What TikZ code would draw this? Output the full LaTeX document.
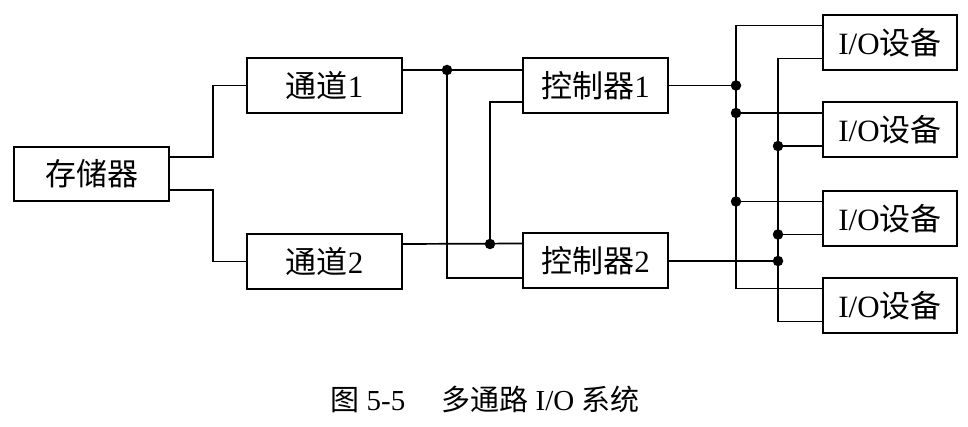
\documentclass[tikz,border=0pt]{standalone}
\usepackage{fontspec}
\setmainfont{Liberation Serif}
\newfontfamily\cjk{Noto Sans CJK SC}
\begin{document}
\begin{tikzpicture}[x=1pt,y=-1pt,
  box/.style={draw,line width=2pt,minimum height=55pt,inner sep=0pt,font=\fontsize{31}{34}\selectfont},
  wire/.style={line width=1.7pt},
  dotj/.style={circle,fill,inner sep=0pt,minimum size=10.5pt}]
\useasboundingbox (0,0) rectangle (968,427);
\node[box,minimum width=155pt,minimum height=54pt] (mem) at (91.5,174) {\cjk 存储器};
\node[box,minimum width=155pt] (ch1) at (324.5,85.5) {{\cjk 通道}1};
\node[box,minimum width=155pt] (ch2) at (324.5,261.5) {{\cjk 通道}2};
\node[box,minimum width=145pt] (ct1) at (595.5,85.5) {{\cjk 控制器}1};
\node[box,minimum width=145pt] (ct2) at (595.5,261) {{\cjk 控制器}2};
\foreach \i/\y in {1/42.5,2/130,3/218.5,4/305.5}{
  \node[box,minimum width=134pt] (io\i) at (890,\y) {I/O{\cjk 设备}};
  \coordinate (io\i u) at ([yshift=17pt]io\i.west);
  \coordinate (io\i l) at ([yshift=-16pt]io\i.west);
}
% memory to channels
\coordinate (mx) at (213,0);
\draw[wire] ([yshift=17pt]mem.east) -| (mx |- ch1.west) -- (ch1.west);
\draw[wire] ([yshift=-16pt]mem.east) -| (mx |- ch2.west) -- (ch2.west);
% channels to controllers
\coordinate (j1) at (447,70);
\coordinate (j2) at (490,244);
\draw[wire] ([yshift=15.5pt]ch1.east) -- ([yshift=15.5pt]ct1.west);
\draw[wire] (j1) |- ([yshift=-17pt]ct2.west);
\draw[wire] ([yshift=-16.5pt]ct1.west) -| (j2);
\draw[wire] ([yshift=17.5pt]ch2.east) -- ([yshift=17.5pt]ct2.west);
\node[dotj] at (j1) {};
\node[dotj] at (j2) {};
% buses
\coordinate (bL) at (736,0);
\coordinate (bR) at (778,0);
\draw[wire] (io1u) -| (bL |- io4u) -- (io4u);
\draw[wire] (io1l) -| (bR |- io4l) -- (io4l);
\draw[wire] (ct1.east) -- (bL |- ct1.east);
\draw[wire] (bL |- io2u) -- (io2u);
\draw[wire] (bL |- io3u) -- (io3u);
\draw[wire] (ct2.east) -- (bR |- ct2.east);
\draw[wire] (bR |- io2l) -- (io2l);
\draw[wire] (bR |- io3l) -- (io3l);
\node[dotj] at (bL |- ct1.east) {};
\node[dotj] at (bL |- io2u) {};
\node[dotj] at (bL |- io3u) {};
\node[dotj] at (bR |- ct2.east) {};
\node[dotj] at (bR |- io2l) {};
\node[dotj] at (bR |- io3l) {};
% caption
\node[font=\fontsize{29}{32}\selectfont,inner sep=0pt] (cap) at (485,399) {{\cjk 图} 5-5\hspace{36pt}{\cjk 多通路} I/O {\cjk 系统}};
\end{tikzpicture}
\end{document}
